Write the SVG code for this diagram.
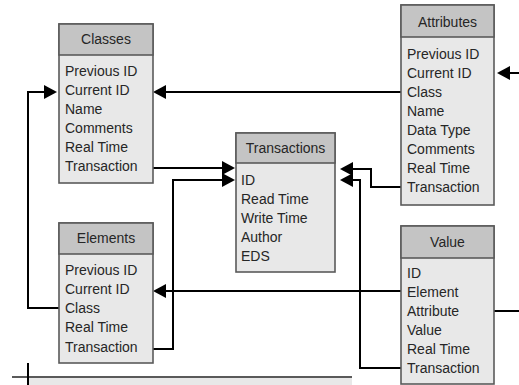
<svg xmlns="http://www.w3.org/2000/svg" width="519" height="385" viewBox="0 0 519 385">
<style>
.body{fill:#e8e8e8;stroke:#5a5a5a;stroke-width:1.6}
.head{fill:#c4c4c4;stroke:#5a5a5a;stroke-width:1.6}
text{font-family:"Liberation Sans",Arial,sans-serif;font-size:14px;fill:#262626}
.t{text-anchor:middle}
.c{fill:none;stroke:#000;stroke-width:2}
</style>
<defs>
<marker id="ah" viewBox="0 0 13 14" refX="10" refY="7" markerWidth="13" markerHeight="14" orient="auto" markerUnits="userSpaceOnUse">
<path d="M0,0 L13,7 L0,14 z" fill="#000"/>
</marker>
</defs>
<rect width="519" height="385" fill="#fff"/>
<g id="connectors">
<path class="c" d="M401,92 H156" marker-end="url(#ah)"/>
<path class="c" d="M59,308 H28 V92 H54" marker-end="url(#ah)"/>
<path class="c" d="M153,168 H232" marker-end="url(#ah)"/>
<path class="c" d="M153,349 H173 V180 H232" marker-end="url(#ah)"/>
<path class="c" d="M401,187 H371 V169 H343" marker-end="url(#ah)"/>
<path class="c" d="M401,368 H360 V180 H343" marker-end="url(#ah)"/>
<path class="c" d="M401,291 H156" marker-end="url(#ah)"/>
<path class="c" d="M494,311 H519"/>
<path class="c" d="M519,73 H500" marker-end="url(#ah)"/>
</g>
<g id="classes">
<rect class="body" x="59" y="24" width="94" height="159"/>
<rect class="head" x="59" y="24" width="94" height="31"/>
<text class="t" x="106" y="44">Classes</text>
<text x="65" y="76">Previous ID</text>
<text x="65" y="95">Current ID</text>
<text x="65" y="114">Name</text>
<text x="65" y="133">Comments</text>
<text x="65" y="152">Real Time</text>
<text x="65" y="171">Transaction</text>
</g>
<g id="attributes">
<rect class="body" x="401" y="5" width="93" height="200"/>
<rect class="head" x="401" y="5" width="93" height="32"/>
<text class="t" x="447.5" y="27">Attributes</text>
<text x="407" y="59">Previous ID</text>
<text x="407" y="78">Current ID</text>
<text x="407" y="97">Class</text>
<text x="407" y="116">Name</text>
<text x="407" y="135">Data Type</text>
<text x="407" y="154">Comments</text>
<text x="407" y="173">Real Time</text>
<text x="407" y="192">Transaction</text>
</g>
<g id="transactions">
<rect class="body" x="236" y="133" width="99" height="139"/>
<rect class="head" x="236" y="133" width="99" height="30"/>
<text class="t" x="285.5" y="153">Transactions</text>
<text x="241" y="185">ID</text>
<text x="241" y="204">Read Time</text>
<text x="241" y="223">Write Time</text>
<text x="241" y="242">Author</text>
<text x="241" y="261">EDS</text>
</g>
<g id="elements">
<rect class="body" x="59" y="223" width="94" height="140"/>
<rect class="head" x="59" y="223" width="94" height="31"/>
<text class="t" x="106" y="243">Elements</text>
<text x="65" y="275">Previous ID</text>
<text x="65" y="294">Current ID</text>
<text x="65" y="313">Class</text>
<text x="65" y="332">Real Time</text>
<text x="65" y="352">Transaction</text>
</g>
<g id="value">
<rect class="body" x="401" y="226" width="93" height="158"/>
<rect class="head" x="401" y="226" width="93" height="32"/>
<text class="t" x="447.5" y="247">Value</text>
<text x="407" y="278">ID</text>
<text x="407" y="297">Element</text>
<text x="407" y="316">Attribute</text>
<text x="407" y="335">Value</text>
<text x="407" y="354">Real Time</text>
<text x="407" y="373">Transaction</text>
</g>
<g id="bottom">
<rect x="28" y="377" width="324" height="9" fill="#e8e8e8"/>
<path d="M12,377 H352" stroke="#5a5a5a" stroke-width="2" fill="none"/>
<path d="M28,363 V385" stroke="#000" stroke-width="2" fill="none"/>
</g>
</svg>
